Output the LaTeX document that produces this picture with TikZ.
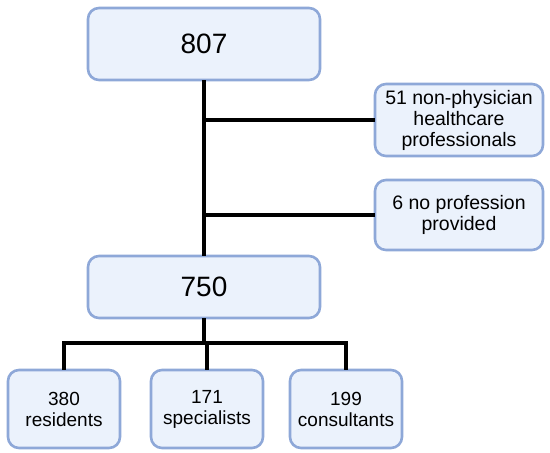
\documentclass[tikz,border=0pt]{standalone}
\usepackage{fontspec}
\setmainfont{Liberation Sans}
\definecolor{boxfill}{HTML}{EBF2FC}
\definecolor{boxline}{HTML}{8EA8D8}
\begin{document}
\begin{tikzpicture}[x=1pt,y=-1pt,
  box/.style={draw=boxline,fill=boxfill,line width=2.6pt,rounded corners=11pt,
    inner sep=0pt,outer sep=0pt,align=center,text=black},
  bigbox/.style={box,minimum width=232pt,font=\fontsize{28}{30}\selectfont},
  sidebox/.style={box,minimum width=168pt,font=\fontsize{19.5}{21}\selectfont},
  leafbox/.style={box,minimum width=112pt,minimum height=78pt,font=\fontsize{19}{21}\selectfont},
  conn/.style={line width=3.2pt,black}]
\useasboundingbox (0,0) rectangle (550,453);
\node[bigbox,minimum height=72pt] (top) at (204,44) {807};
\node[sidebox,minimum height=72pt] (prof) at (459,120) {51 non-physician\\healthcare\\professionals};
\node[sidebox,minimum height=70pt] (none) at (459,215) {6 no profession\\provided};
\node[bigbox,minimum height=62pt] (mid) at (204,287) {750};
\node[leafbox] (res) at (64,409) {380\\residents};
\node[leafbox] (spec) at (207,409) {171\\specialists};
\node[leafbox] (cons) at (346,409) {199\\consultants};
\coordinate (bar) at (0,343);
\draw[conn] (top.south) -- (mid.north);
\draw[conn] (top.south |- prof.west) -- (prof.west);
\draw[conn] (top.south |- none.west) -- (none.west);
\draw[conn] (mid.south) -- (mid.south |- bar);
\draw[conn] ([xshift=-1.6pt]res.north |- bar) -- ([xshift=1.6pt]cons.north |- bar);
\draw[conn] (res.north |- bar) -- (res.north);
\draw[conn] (spec.north |- bar) -- (spec.north);
\draw[conn] (cons.north |- bar) -- (cons.north);
\end{tikzpicture}
\end{document}
